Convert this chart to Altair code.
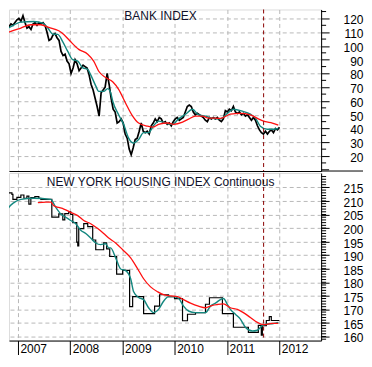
import altair as alt
import pandas as pd

# ---------------- data ----------------
YEARS = [2007, 2008, 2009, 2010, 2011, 2012]
X_DOMAIN = [2006.83, 2012.80]
SIGNAL_YEAR = [2011.70]

BANK_TICKS = [20, 30, 40, 50, 60, 70, 80, 90, 100, 110, 120]
HOUSE_TICKS = [160, 165, 170, 175, 180, 185, 190, 195, 200, 205, 210, 215]

# Bank index, one reading every 14 days from mid-September 2006
BANK_START = 2006.714
BANK_STEP_DAYS = 14
BANK_CLOSE = [114, 113, 115, 114, 116, 115, 117, 119, 120, 118,
              122, 117, 113, 114, 112, 116, 117, 115, 117, 116,
              117, 115, 110, 104, 105, 108, 109, 106, 104, 96,
              93, 94, 89, 87, 80, 84, 90, 87, 82, 84,
              86, 85, 84, 79, 72, 68, 62, 56, 49, 66,
              68, 70, 80, 72, 62, 54, 52, 44, 45, 47,
              44, 36, 33, 25, 21, 26, 32, 33, 38, 44,
              38, 37, 38, 36, 42, 44, 47, 45, 48, 47,
              44, 45, 43, 44, 42, 45, 47, 48, 46, 47,
              48, 52, 56, 57, 56, 52, 50, 51, 50, 49,
              48, 46, 45, 48, 47, 48, 47, 48, 46, 45,
              47, 53, 52, 54, 53, 56, 52, 51, 52, 50,
              51, 49, 50, 48, 46, 48, 46, 42, 39, 37,
              36, 38, 36, 38, 39, 37, 40, 39, 41]

BANK_FAST_T = [2006.714, 2006.866, 2007.057, 2007.305, 2007.477, 2007.573, 2007.668,
               2007.763, 2007.859, 2007.954, 2008.050, 2008.145, 2008.241, 2008.336,
               2008.393, 2008.489, 2008.546, 2008.641, 2008.718, 2008.775, 2008.813,
               2008.927, 2009.023, 2009.118, 2009.214, 2009.309, 2009.405, 2009.500,
               2009.595, 2009.691, 2009.824, 2009.958, 2010.073, 2010.206, 2010.340,
               2010.454, 2010.588, 2010.721, 2010.874, 2011.008, 2011.122, 2011.294,
               2011.447, 2011.542, 2011.637, 2011.771, 2011.886, 2011.981]
BANK_FAST_V = [110.6, 114, 117.3, 117.8, 116.6, 113, 108.6,
               108.4, 103, 96, 90, 89, 84, 83,
               79, 71, 67, 67, 69, 66, 60,
               50, 43, 33, 29.4, 32, 37, 37,
               42, 45.4, 44, 43, 47, 50.4, 54,
               50, 49, 47.5, 47, 51, 54, 52.6,
               50.4, 47.7, 41.7, 39.5, 39.5, 40]

BANK_SLOW_T = [2006.676, 2006.866, 2007.057, 2007.248, 2007.439, 2007.592, 2007.782,
               2007.878, 2008.011, 2008.164, 2008.336, 2008.450, 2008.546, 2008.679,
               2008.813, 2008.927, 2009.061, 2009.195, 2009.309, 2009.481, 2009.576,
               2009.691, 2009.862, 2009.977, 2010.149, 2010.264, 2010.397, 2010.531,
               2010.645, 2010.779, 2010.874, 2011.065, 2011.256, 2011.447, 2011.599,
               2011.733, 2011.866, 2011.981]
BANK_SLOW_V = [108.4, 110.6, 113, 115.4, 115.4, 113.5, 111,
               108.4, 103, 97.5, 94, 89, 81.6, 77,
               74, 68.5, 58.4, 49, 44, 41.7, 41,
               43, 44, 43, 44.6, 46.8, 49, 49,
               47.5, 47.5, 47.3, 50.4, 51, 50, 47,
               45, 44, 42.5]

# New York housing index (step series)
HOUSE_T = [2006.714, 2006.752, 2006.790, 2006.809, 2006.886, 2006.905, 2006.981,
           2007.057, 2007.115, 2007.172, 2007.210, 2007.248, 2007.324, 2007.401,
           2007.439, 2007.649, 2007.782, 2007.859, 2007.897, 2007.973, 2008.011,
           2008.050, 2008.126, 2008.145, 2008.164, 2008.260, 2008.336, 2008.431,
           2008.489, 2008.641, 2008.698, 2008.756, 2008.889, 2009.004, 2009.137,
           2009.195, 2009.405, 2009.615, 2009.710, 2009.882, 2009.996, 2010.149,
           2010.244, 2010.397, 2010.588, 2010.664, 2010.912, 2011.122, 2011.409,
           2011.599, 2011.656, 2011.676, 2011.752, 2011.809, 2011.847, 2012.000]
HOUSE_V = [204.6, 203.2, 204.3, 213.0, 212.4, 210.6, 211.3,
           212.2, 211.0, 211.8, 208.8, 211.2, 211.6, 211.0,
           210.6, 204.0, 205.2, 203.0, 205.3, 206.0, 205.0,
           202.0, 194.8, 193.4, 199.8, 201.6, 200.5, 195.6,
           192.0, 194.5, 192.3, 189.5, 183.0, 184.4, 171.0,
           174.7, 168.4, 171.2, 175.4, 174.7, 174.0, 165.8,
           168.2, 168.8, 171.9, 174.3, 168.4, 163.4, 161.5,
           164.1, 160.5, 164.0, 165.9, 167.3, 165.9, 165.9]

HOUSE_FAST_T = [2006.733, 2006.828, 2006.924, 2007.057, 2007.305, 2007.630, 2007.725,
                2007.821, 2007.916, 2008.011, 2008.107, 2008.202, 2008.298, 2008.393,
                2008.489, 2008.584, 2008.679, 2008.737, 2008.775, 2008.870, 2008.966,
                2009.061, 2009.157, 2009.214, 2009.309, 2009.405, 2009.500, 2009.595,
                2009.691, 2009.786, 2009.882, 2009.977, 2010.073, 2010.168, 2010.264,
                2010.397, 2010.588, 2010.683, 2010.779, 2010.874, 2010.931, 2011.008,
                2011.065, 2011.160, 2011.256, 2011.351, 2011.485, 2011.580, 2011.676,
                2011.771, 2011.886, 2011.981]
HOUSE_FAST_V = [204, 207.6, 209.4, 210.6, 211, 210.6, 207.6,
                205.2, 204, 202.8, 201.6, 199.2, 198, 196.3,
                194.5, 193.9, 194.2, 192.7, 192.7, 189, 184.9,
                184.3, 181.3, 176.5, 174.4, 173.6, 170.6, 168.8,
                170, 173, 174.7, 174.7, 174.1, 171.2, 169.4,
                168.8, 168.8, 171.2, 172.3, 173.6, 174, 171.8,
                170, 168.2, 166.4, 163.4, 162, 162.3, 164,
                164.6, 164.8, 165.2]

HOUSE_SLOW_T = [2007.382, 2007.534, 2007.630, 2007.687, 2007.782, 2007.878, 2008.011,
                2008.145, 2008.260, 2008.393, 2008.527, 2008.641, 2008.737, 2008.870,
                2009.004, 2009.157, 2009.290, 2009.405, 2009.538, 2009.672, 2009.786,
                2009.920, 2010.054, 2010.168, 2010.302, 2010.454, 2010.588, 2010.721,
                2010.817, 2010.931, 2011.065, 2011.198, 2011.313, 2011.447, 2011.580,
                2011.695, 2011.866, 2011.981]
HOUSE_SLOW_V = [209.4, 209.6, 209.6, 208.2, 207.6, 207, 205.8,
                204.6, 202.8, 201.6, 199.8, 198, 196.3, 194.5,
                192, 189, 185, 181.3, 178.3, 176.5, 175.4,
                175, 174.7, 173.6, 172.3, 171.2, 170.6, 171.5,
                171.8, 172, 170.6, 170, 168.8, 167, 165.2,
                164.4, 164.8, 164.8]

# ---------------- tables ----------------
bank_t = [BANK_START + i * BANK_STEP_DAYS / 365.25 for i in range(len(BANK_CLOSE))]
bank_close = pd.DataFrame({"t": bank_t, "v": BANK_CLOSE})
bank_fast = pd.DataFrame({"t": BANK_FAST_T, "v": BANK_FAST_V})
bank_slow = pd.DataFrame({"t": BANK_SLOW_T, "v": BANK_SLOW_V})
house = pd.DataFrame({"t": HOUSE_T, "v": HOUSE_V})
house_fast = pd.DataFrame({"t": HOUSE_FAST_T, "v": HOUSE_FAST_V})
house_slow = pd.DataFrame({"t": HOUSE_SLOW_T, "v": HOUSE_SLOW_V})
signal = pd.DataFrame({"t": SIGNAL_YEAR})

bank_minor = pd.DataFrame({"v": [15, 25, 35, 45, 55, 65, 75, 85, 95, 105, 115, 125]})
bank_extra_major = pd.DataFrame({"v": [10]})
house_minor = pd.DataFrame({"v": list(range(159, 220))})

# ---------------- styling ----------------
W, H1, H2 = 313, 162, 168
FONT = "Liberation Sans"
GRID = "#b9b9b9"
TEAL = "#13877f"
RED = "#ff1010"
BLACK = "#000000"

xs = alt.Scale(domain=X_DOMAIN, nice=False, zero=False)
ys_top = alt.Scale(domain=[9.1, 126.5], nice=False, zero=False)
ys_bot = alt.Scale(domain=[158.5, 220.3], nice=False, zero=False)

x_axis_top = alt.Axis(values=YEARS, labels=False, ticks=False, domain=True,
                      domainColor=BLACK, grid=True, gridColor=GRID,
                      gridDash=[4, 3], title=None)
x_axis_bot = alt.Axis(values=YEARS, format="d", tickSize=14, tickColor=BLACK,
                      domain=True, domainColor=BLACK, labelAlign="left",
                      labelBaseline="top", labelPadding=-11, labelOffset=2,
                      labelFlush=False, labelOverlap=False, labelBound=False,
                      labelFont=FONT, labelFontSize=12, labelColor=BLACK,
                      grid=True, gridColor=GRID, gridDash=[4, 3], title=None)


def y_axis(vals):
    return alt.Axis(orient="right", values=vals, tickSize=8, tickColor=BLACK,
                    domain=True, domainColor=BLACK, labelAlign="right",
                    labelBaseline="middle", labelPadding=34, labelOffset=1.5,
                    labelFont=FONT, labelFontSize=12, labelColor=BLACK,
                    labelOverlap=False, labelFlush=False, labelBound=False,
                    grid=True, gridColor=GRID, gridDash=[4, 3], title=None)


def panel(close_df, fast_df, slow_df, ys, yaxis, xaxis, h, minor_df, extra_df,
          title, title_y, close_interp, close_width):
    X = alt.X("t:Q", scale=xs, axis=xaxis)
    Y = alt.Y("v:Q", scale=ys, axis=yaxis)
    close = alt.Chart(close_df).mark_line(color=BLACK, strokeWidth=close_width,
                                          clip=True,
                                          interpolate=close_interp).encode(x=X, y=Y)
    fast = alt.Chart(fast_df).mark_line(color=TEAL, strokeWidth=1.4, clip=True,
                                        interpolate="monotone").encode(x=X, y=Y)
    slow = alt.Chart(slow_df).mark_line(color=RED, strokeWidth=1.3, clip=True,
                                        interpolate="monotone").encode(x=X, y=Y)
    sig = alt.Chart(signal).mark_rule(color="#8b0000", strokeDash=[4, 3],
                                      strokeWidth=1).encode(x=X)
    minor = alt.Chart(minor_df).mark_rule(color=BLACK).encode(
        y=Y, x=alt.value(W), x2=alt.value(W + 5))
    layers = [close, fast, slow, sig, minor]
    if extra_df is not None:
        layers.append(alt.Chart(extra_df).mark_rule(color=BLACK).encode(
            y=Y, x=alt.value(W), x2=alt.value(W + 8)))
    label = alt.Chart(pd.DataFrame({"s": [title]})).mark_text(
        font=FONT, fontSize=12, color="#10102a", align="center",
        baseline="alphabetic").encode(text="s:N", x=alt.value(152),
                                      y=alt.value(title_y))
    layers.append(label)
    return alt.layer(*layers).properties(width=W, height=h)


top = panel(bank_close, bank_fast, bank_slow, ys_top, y_axis(BANK_TICKS),
            x_axis_top, H1, bank_minor, bank_extra_major, "BANK INDEX", 10.5,
            "linear", 1.7)
divider = alt.Chart(pd.DataFrame({"a": [0]})).mark_rule(color=BLACK).encode(
    x=alt.value(W), x2=alt.value(W + 42), y=alt.value(H1))
top = alt.layer(top, divider)

bottom = panel(house, house_fast, house_slow, ys_bot, y_axis(HOUSE_TICKS),
               x_axis_bot, H2, house_minor, None,
               "NEW YORK HOUSING INDEX Continuous", 13, "step-after", 1.2)

chart = alt.vconcat(top, bottom, spacing=0).properties(
    padding={"left": 0, "top": 0, "right": 0, "bottom": 0}
).resolve_scale(y="independent").configure_view(strokeWidth=0).configure(
    background="white")

chart.save("out.html", embed_options={"renderer": "svg", "actions": False})
